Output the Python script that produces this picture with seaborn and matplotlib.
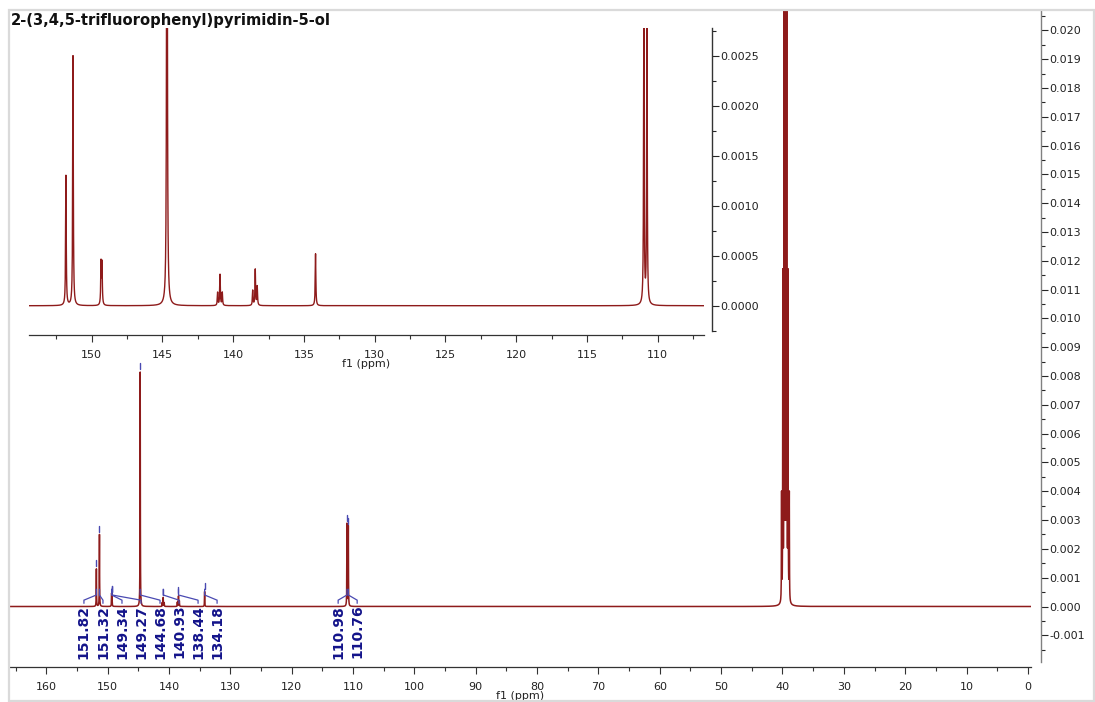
import numpy as np
import pandas as pd
import matplotlib
matplotlib.use("Agg")
import matplotlib.pyplot as plt
from matplotlib.ticker import FixedLocator, FormatStrFormatter
from matplotlib.patches import Rectangle
import seaborn as sns

compound_name = "2-(3,4,5-trifluorophenyl)pyrimidin-5-ol"

# labelled 13C resonances (ppm), intensities and label groups
peak_ppm = [151.82, 151.32, 149.34, 149.27, 144.68, 140.93, 138.44, 134.18, 110.98, 110.76]
peak_height = [0.00130, 0.00250, 0.00042, 0.00041, 0.00814, 0.00031, 0.00036, 0.00052, 0.00286, 0.00278]
peak_group = [0, 0, 0, 0, 0, 0, 0, 0, 1, 1]

# outer lines of the C-F multiplets (not labelled)
satellite_ppm = [141.10, 140.77, 138.62, 138.30]
satellite_height = [0.00013, 0.00013, 0.00015, 0.00019]

# DMSO-d6 solvent septet
solvent_ppm = [40.15, 39.94, 39.73, 39.52, 39.31, 39.10, 38.89]
solvent_height = [0.0037, 0.0112, 0.0236, 0.0275, 0.0236, 0.0112, 0.0037]

main_xticks = list(range(0, 161, 10))
main_xminor = list(range(5, 166, 10))
main_yticks = [round(-0.001 + 0.001 * i, 3) for i in range(22)]
main_yminor = [round(-0.0015 + 0.001 * i, 4) for i in range(23)]
inset_xticks = [110, 115, 120, 125, 130, 135, 140, 145, 150]
inset_xminor = [107.5, 112.5, 117.5, 122.5, 127.5, 132.5, 137.5, 142.5, 147.5, 152.5]
inset_yticks = [0.0, 0.0005, 0.0010, 0.0015, 0.0020, 0.0025]
inset_yminor = [-0.00025, 0.00025, 0.00075, 0.00125, 0.00175, 0.00225, 0.00275]

SPEC_RED = "#8e1b1b"
MARK_BLUE = "#4a4ab2"
LABEL_NAVY = "#13138a"
AXIS_DARK = "#333333"

sns.set_theme(style="white")
plt.rcParams["font.family"] = ["DejaVu Sans"]
plt.rcParams["axes.unicode_minus"] = False

# Lorentzian line shapes built from the line list
fwhm = 0.05
shift = np.round(np.arange(-1.0, 166.0 + 1e-9, 0.005), 3)
line_ppm = np.array(peak_ppm + satellite_ppm + solvent_ppm)
line_h = np.array(peak_height + satellite_height + solvent_height)
intensity = (line_h[:, None] / (1.0 + ((shift[None, :] - line_ppm[:, None]) / (fwhm / 2)) ** 2)).sum(axis=0)
spectrum = pd.DataFrame({"shift": shift, "intensity": intensity})

W, H = 1095, 702
fig = plt.figure(figsize=(W / 100, H / 100), dpi=100)


def pixel_box(x0, y0, x1, y1):
    return [x0 / W, 1 - y1 / H, (x1 - x0) / W, (y1 - y0) / H]


def style_axis(a, out_px, ybounds, yfmt):
    for s in ("left", "top"):
        a.spines[s].set_visible(False)
    a.spines["bottom"].set_color(AXIS_DARK)
    a.spines["bottom"].set_linewidth(0.9)
    a.spines["right"].set_position(("outward", out_px))
    a.spines["right"].set_bounds(*ybounds)
    a.spines["right"].set_linewidth(1.0)
    a.yaxis.tick_right()
    a.yaxis.set_major_formatter(FormatStrFormatter(yfmt))
    a.xaxis.set_major_formatter(FormatStrFormatter("%d"))
    a.tick_params(axis="x", which="both", direction="out", bottom=True, colors=AXIS_DARK,
                  labelcolor="#222222", labelsize=8, width=0.8)
    a.tick_params(axis="x", which="major", length=5, pad=6)
    a.tick_params(axis="x", which="minor", length=3)
    a.tick_params(axis="y", which="both", direction="out", right=True, left=False,
                  labelright=True, labelleft=False, labelsize=8, labelcolor="#222222", width=0.8)
    a.tick_params(axis="y", which="major", length=5, pad=1)
    a.tick_params(axis="y", which="minor", length=3)
    a.set_ylabel("")
    a.set_xlabel("f1 (ppm)", fontsize=8, color="#222222", labelpad=-1)
    a.grid(False)


# main spectrum
ax = fig.add_axes(pixel_box(10, 10, 1031, 666.7))
ax.set_facecolor("none")
sns.lineplot(data=spectrum, x="shift", y="intensity", ax=ax, color=SPEC_RED, linewidth=1.1,
             estimator=None, sort=False, errorbar=None)
ax.set_xlim(165.9, -0.5)
ax.set_ylim(-0.00209, 0.02071)
ax.xaxis.set_major_locator(FixedLocator(main_xticks))
ax.xaxis.set_minor_locator(FixedLocator(main_xminor))
ax.yaxis.set_major_locator(FixedLocator(main_yticks))
ax.yaxis.set_minor_locator(FixedLocator(main_yminor))
style_axis(ax, 7, (-0.00194, 0.02071), "%.3f")
ax.spines["right"].set_color("#808080")

# peak picking marks and labels
label_step = 3.1
label_top = 0.00006
for g in sorted(set(peak_group)):
    idx = [i for i, gg in enumerate(peak_group) if gg == g]
    members = [peak_ppm[i] for i in idx]
    centre = (max(members) + min(members)) / 2
    n = len(idx)
    for k, i in enumerate(idx):
        px = peak_ppm[i]
        lx = centre + ((n - 1) / 2 - k) * label_step
        ax.text(lx, label_top, f"{px:.2f}", rotation=90, ha="center", va="top",
                fontsize=10, fontweight="bold", color=LABEL_NAVY)
        ax.plot([lx, lx, px, px], [0.00011, 0.00022, 0.0004, 0.0006],
                color=MARK_BLUE, linewidth=0.9, solid_joinstyle="miter")
        h = peak_height[i]
        ax.plot([px, px], [h + 0.0001, h + 0.0003], color=MARK_BLUE, linewidth=1.0)

# expanded aromatic region
ins = fig.add_axes(pixel_box(29, 28, 704, 335))
ins.set_facecolor("none")
sns.lineplot(data=spectrum, x="shift", y="intensity", ax=ins, color=SPEC_RED, linewidth=1.0,
             estimator=None, sort=False, errorbar=None)
ins.set_xlim(154.43, 106.73)
ins.set_ylim(-0.000293, 0.00278)
ins.xaxis.set_major_locator(FixedLocator(inset_xticks))
ins.xaxis.set_minor_locator(FixedLocator(inset_xminor))
ins.yaxis.set_major_locator(FixedLocator(inset_yticks))
ins.yaxis.set_minor_locator(FixedLocator(inset_yminor))
style_axis(ins, 5.5, (-0.00025, 0.00278), "%.4f")
ins.spines["right"].set_color(AXIS_DARK)

fig.text(11 / W, 1 - 20 / H, compound_name, fontsize=10.6, fontweight="bold",
         ha="left", va="center", color="#111111")

fig.patches.append(Rectangle((8.5 / W, 1 - 700.5 / H), (1094 - 8.5) / W, (700.5 - 10) / H,
                             transform=fig.transFigure, fill=False,
                             edgecolor="#dadada", linewidth=1.6))

fig.savefig("out.png", dpi=100)
